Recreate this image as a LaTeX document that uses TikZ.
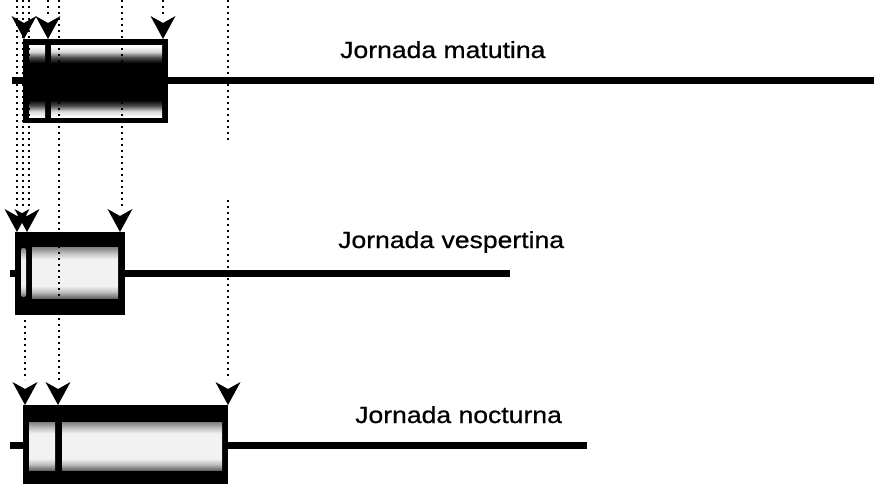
\documentclass[tikz,border=0pt]{standalone}
\usepackage{fontspec}
\setmainfont{Liberation Sans}
\newfontfamily\lblfont[FakeBold=0.7]{Liberation Sans}
\pgfdeclareverticalshading{darkcore}{100bp}{color(0bp)=(white); color(25bp)=(white); color(29bp)=(white!85!black); color(33bp)=(black!70); color(37bp)=(black); color(63bp)=(black); color(67bp)=(black!70); color(71bp)=(white!85!black); color(75bp)=(white); color(100bp)=(white)}
\pgfdeclareverticalshading{lightcore}{100bp}{color(0bp)=(black!60); color(25bp)=(black!60); color(31bp)=(black!25); color(37bp)=(white!95!black); color(63bp)=(white!95!black); color(69bp)=(black!25); color(75bp)=(black!50); color(100bp)=(black!50)}
\begin{document}
\begin{tikzpicture}[x=1pt,y=-1pt,
  shaft/.style={line width=7pt},
  guide/.style={line width=1.6pt,dash pattern=on 1.6pt off 4.4pt},
  tipmark/.pic={\fill (0,0) -- (-12.5,-23) -- (0,-16) -- (12.5,-23) -- cycle;},
  label/.style={anchor=base west,inner sep=0pt,font=\lblfont\fontsize{23.3}{28}\selectfont}]
\useasboundingbox (0,0) rectangle (874,484);

% ---------- top: matutina ----------
\coordinate (ma1) at (24,39);
\coordinate (ma2) at (48,39);
\coordinate (ma3) at (163,39);
\draw[shaft] (12,81) -- (874,81);
\fill (23,39) rectangle (168,123);
\shade[shading=darkcore] (29,46) rectangle (45,117);
\shade[shading=darkcore] (51,46) rectangle (162,117);
\pic at (ma1) {tipmark};
\pic at (ma2) {tipmark};
\pic at (ma3) {tipmark};
\node[label] (tm) at (340,58) {\scalebox{1.14}[1]{Jornada matutina}};

% ---------- middle: vespertina ----------
\coordinate (ve1) at (17,232);
\coordinate (ve2) at (27,232);
\coordinate (ve3) at (120,232);
\draw[shaft] (10,273) -- (510,273);
\fill (15,232) rectangle (125,315);
\shade[shading=lightcore,rounded corners=2pt] (21,248) rectangle (26,297);
\shade[shading=lightcore] (32,247) rectangle (118,298);
\pic at (ve1) {tipmark};
\pic at (ve2) {tipmark};
\pic at (ve3) {tipmark};
\node[label] (tv) at (338,248) {\scalebox{1.14}[1]{Jornada vespertina}};

% ---------- bottom: nocturna ----------
\coordinate (no1) at (25,405);
\coordinate (no2) at (58,405);
\coordinate (no3) at (228,405);
\draw[shaft] (10,445) -- (587,445);
\fill (23,405) rectangle (228,484);
\shade[shading=lightcore] (29,422) rectangle (55,470);
\shade[shading=lightcore] (62,422) rectangle (222,470);
\pic at (no1) {tipmark};
\pic at (no2) {tipmark};
\pic at (no3) {tipmark};
\node[label] (tn) at (355,423) {\scalebox{1.14}[1]{Jornada nocturna}};

% ---------- dotted guide lines ----------
\coordinate (g18) at (17,0);
\coordinate (g24) at (23,0);
\coordinate (g29) at (29,0);
\coordinate (g48) at (48,0);
\coordinate (g58) at (59,0);
\coordinate (g122) at (122,0);
\coordinate (g163) at (163,0);
\coordinate (g228) at (228,0);
\draw[guide] (g18) -- (17,207);
\draw[guide] (g24) -- (23,207);
\draw[guide] (g29) -- (29,207);
\draw[guide] (g48) -- (48,15);
\draw[guide] (g58) -- (59,380);
\draw[guide] (g122) -- (122,207);
\draw[guide] (g163) -- (163,15);
\draw[guide] (g228) -- (228,140);
\draw[guide] (228,200) -- (228,380);
\draw[guide] (25,320) -- (25,380);
\end{tikzpicture}
\end{document}
